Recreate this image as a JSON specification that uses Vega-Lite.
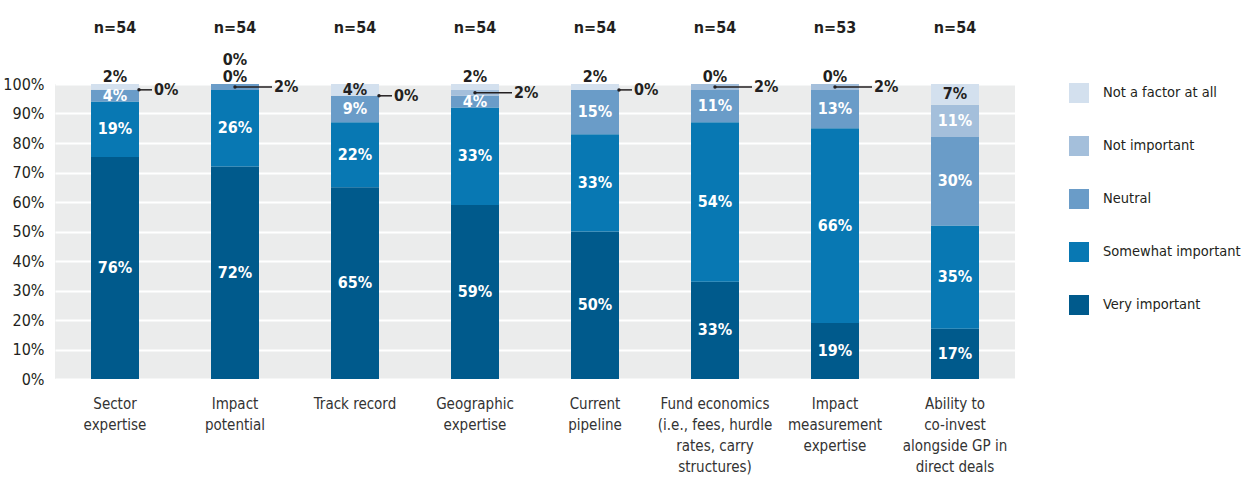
{
  "$schema": "https://vega.github.io/schema/vega-lite/v6.json",
  "width": 960,
  "height": 295,
  "autosize": {"type": "none"},
  "padding": {"left": 55, "top": 84, "right": 229, "bottom": 98},
  "background": "white",
  "config": {
    "font": "DejaVu Sans Condensed, Liberation Sans Narrow, Roboto, sans-serif",
    "view": {"fill": "#ebecec", "stroke": null},
    "axis": {"domain": false, "ticks": false}
  },
  "data": {
    "values": [
      {"factor": "Sector expertise", "response": "Very important", "value": 76, "n": 54},
      {"factor": "Sector expertise", "response": "Somewhat important", "value": 19, "n": 54},
      {"factor": "Sector expertise", "response": "Neutral", "value": 4, "n": 54},
      {"factor": "Sector expertise", "response": "Not important", "value": 0, "n": 54},
      {"factor": "Sector expertise", "response": "Not a factor at all", "value": 2, "n": 54},
      {"factor": "Impact potential", "response": "Very important", "value": 72, "n": 54},
      {"factor": "Impact potential", "response": "Somewhat important", "value": 26, "n": 54},
      {"factor": "Impact potential", "response": "Neutral", "value": 2, "n": 54},
      {"factor": "Impact potential", "response": "Not important", "value": 0, "n": 54},
      {"factor": "Impact potential", "response": "Not a factor at all", "value": 0, "n": 54},
      {"factor": "Track record", "response": "Very important", "value": 65, "n": 54},
      {"factor": "Track record", "response": "Somewhat important", "value": 22, "n": 54},
      {"factor": "Track record", "response": "Neutral", "value": 9, "n": 54},
      {"factor": "Track record", "response": "Not important", "value": 0, "n": 54},
      {"factor": "Track record", "response": "Not a factor at all", "value": 4, "n": 54},
      {"factor": "Geographic expertise", "response": "Very important", "value": 59, "n": 54},
      {"factor": "Geographic expertise", "response": "Somewhat important", "value": 33, "n": 54},
      {"factor": "Geographic expertise", "response": "Neutral", "value": 4, "n": 54},
      {"factor": "Geographic expertise", "response": "Not important", "value": 2, "n": 54},
      {"factor": "Geographic expertise", "response": "Not a factor at all", "value": 2, "n": 54},
      {"factor": "Current pipeline", "response": "Very important", "value": 50, "n": 54},
      {"factor": "Current pipeline", "response": "Somewhat important", "value": 33, "n": 54},
      {"factor": "Current pipeline", "response": "Neutral", "value": 15, "n": 54},
      {"factor": "Current pipeline", "response": "Not important", "value": 0, "n": 54},
      {"factor": "Current pipeline", "response": "Not a factor at all", "value": 2, "n": 54},
      {"factor": "Fund economics (i.e., fees, hurdle rates, carry structures)", "response": "Very important", "value": 33, "n": 54},
      {"factor": "Fund economics (i.e., fees, hurdle rates, carry structures)", "response": "Somewhat important", "value": 54, "n": 54},
      {"factor": "Fund economics (i.e., fees, hurdle rates, carry structures)", "response": "Neutral", "value": 11, "n": 54},
      {"factor": "Fund economics (i.e., fees, hurdle rates, carry structures)", "response": "Not important", "value": 2, "n": 54},
      {"factor": "Fund economics (i.e., fees, hurdle rates, carry structures)", "response": "Not a factor at all", "value": 0, "n": 54},
      {"factor": "Impact measurement expertise", "response": "Very important", "value": 19, "n": 53},
      {"factor": "Impact measurement expertise", "response": "Somewhat important", "value": 66, "n": 53},
      {"factor": "Impact measurement expertise", "response": "Neutral", "value": 13, "n": 53},
      {"factor": "Impact measurement expertise", "response": "Not important", "value": 2, "n": 53},
      {"factor": "Impact measurement expertise", "response": "Not a factor at all", "value": 0, "n": 53},
      {"factor": "Ability to co-invest alongside GP in direct deals", "response": "Very important", "value": 17, "n": 54},
      {"factor": "Ability to co-invest alongside GP in direct deals", "response": "Somewhat important", "value": 35, "n": 54},
      {"factor": "Ability to co-invest alongside GP in direct deals", "response": "Neutral", "value": 30, "n": 54},
      {"factor": "Ability to co-invest alongside GP in direct deals", "response": "Not important", "value": 11, "n": 54},
      {"factor": "Ability to co-invest alongside GP in direct deals", "response": "Not a factor at all", "value": 7, "n": 54}
    ]
  },
  "transform": [
    {"calculate": "indexof(['Very important','Somewhat important','Neutral','Not important','Not a factor at all'], datum.response)", "as": "ord"},
    {"stack": "value", "groupby": ["factor"], "sort": [{"field": "ord", "order": "ascending"}], "as": ["y0", "y1"], "offset": "normalize"},
    {"calculate": "(datum.y0 + datum.y1) / 2", "as": "ymid"},
    {"calculate": "format(datum.value, 'd') + '%'", "as": "lab"}
  ],
  "resolve": {"axis": {"y": "independent"}},
  "encoding": {
    "x": {
      "field": "factor",
      "type": "nominal",
      "sort": ["Sector expertise", "Impact potential", "Track record", "Geographic expertise", "Current pipeline", "Fund economics (i.e., fees, hurdle rates, carry structures)", "Impact measurement expertise", "Ability to co-invest alongside GP in direct deals"],
      "scale": {"paddingInner": 0.6, "paddingOuter": 0.3},
      "axis": {
        "title": null,
        "labelAngle": 0,
        "labelFontSize": 15,
        "labelColor": "#333333",
        "labelPadding": 17,
        "labelBaseline": "top",
        "labelLineHeight": 21,
        "labelLimit": 200,
        "grid": false,
        "labelExpr": "{'Sector expertise':['Sector','expertise'],'Impact potential':['Impact','potential'],'Track record':['Track record'],'Geographic expertise':['Geographic','expertise'],'Current pipeline':['Current','pipeline'],'Fund economics (i.e., fees, hurdle rates, carry structures)':['Fund economics','(i.e., fees, hurdle','rates, carry','structures)'],'Impact measurement expertise':['Impact','measurement','expertise'],'Ability to co-invest alongside GP in direct deals':['Ability to','co-invest','alongside GP in','direct deals']}[datum.label]"
      }
    }
  },
  "layer": [
    {
      "mark": {"type": "bar"},
      "encoding": {
        "y": {
          "field": "y0",
          "type": "quantitative",
          "title": null,
          "scale": {"domain": [0, 1], "nice": false},
          "axis": {
            "title": null,
            "format": ".0%",
            "values": [0, 0.1, 0.2, 0.3, 0.4, 0.5, 0.6, 0.7, 0.8, 0.9, 1],
            "labelOverlap": false,
            "labelFontSize": 16,
            "labelColor": "#231f20",
            "labelPadding": 11,
            "grid": true,
            "gridColor": "white",
            "gridWidth": 2
          }
        },
        "y2": {"field": "y1"},
        "color": {
          "field": "response",
          "type": "nominal",
          "scale": {
            "domain": ["Not a factor at all", "Not important", "Neutral", "Somewhat important", "Very important"],
            "range": ["#d3e0ee", "#a4bfdb", "#6a9cc8", "#0878b3", "#005a8c"]
          },
          "legend": {
            "title": null,
            "orient": "none",
            "legendX": 1014,
            "legendY": -1,
            "padding": 0,
            "symbolType": "square",
            "symbolSize": 400,
            "symbolStrokeWidth": 0,
            "symbolOpacity": 1,
            "labelFontSize": 14.5,
            "labelColor": "#231f20",
            "labelOffset": 14,
            "rowPadding": 33,
            "labelLimit": 300
          }
        }
      }
    },
    {
      "transform": [{"filter": "datum.value >= 4"}],
      "mark": {"type": "text", "fontSize": 16, "fontWeight": "bold", "baseline": "middle", "align": "center"},
      "encoding": {
        "y": {"field": "ymid", "type": "quantitative", "axis": null},
        "text": {"field": "lab"},
        "color": {"condition": {"test": "datum.response == 'Not a factor at all'", "value": "#231f20"}, "value": "white"}
      }
    },
    {
      "transform": [
        {"filter": "(datum.value == 0 && datum.y1 > 0.995) || (datum.value > 0 && datum.value <= 2 && datum.response == 'Not a factor at all')"},
        {"window": [{"op": "row_number", "as": "lvl"}], "groupby": ["factor"], "sort": [{"field": "ord", "order": "ascending"}]},
        {"calculate": "1.025 + (datum.lvl - 1) * 0.058", "as": "ylab"}
      ],
      "mark": {"type": "text", "fontSize": 16, "fontWeight": "bold", "baseline": "middle", "align": "center", "color": "#231f20"},
      "encoding": {
        "y": {"field": "ylab", "type": "quantitative", "axis": null},
        "text": {"field": "lab"}
      }
    },
    {
      "transform": [{"filter": "datum.value == 2 && datum.response != 'Not a factor at all'"}],
      "mark": {"type": "rule", "xOffset": 0, "x2Offset": 37, "color": "#231f20", "strokeWidth": 1.5},
      "encoding": {
        "x2": {"field": "factor"},
        "y": {"field": "ymid", "type": "quantitative", "axis": null}
      }
    },
    {
      "transform": [{"filter": "datum.value == 0 && datum.y1 <= 0.995"}],
      "mark": {"type": "rule", "xOffset": 24, "x2Offset": 37, "color": "#231f20", "strokeWidth": 1.5},
      "encoding": {
        "x2": {"field": "factor"},
        "y": {"field": "ymid", "type": "quantitative", "axis": null}
      }
    },
    {
      "transform": [{"filter": "datum.value == 2 && datum.response != 'Not a factor at all'"}],
      "mark": {"type": "point", "filled": true, "size": 12, "opacity": 1, "color": "#231f20", "xOffset": 0},
      "encoding": {
        "y": {"field": "ymid", "type": "quantitative", "axis": null}
      }
    },
    {
      "transform": [{"filter": "datum.value == 0 && datum.y1 <= 0.995"}],
      "mark": {"type": "point", "filled": true, "size": 12, "opacity": 1, "color": "#231f20", "xOffset": 24},
      "encoding": {
        "y": {"field": "ymid", "type": "quantitative", "axis": null}
      }
    },
    {
      "transform": [{"filter": "(datum.value == 2 && datum.response != 'Not a factor at all') || (datum.value == 0 && datum.y1 <= 0.995)"}],
      "mark": {"type": "text", "fontSize": 16, "fontWeight": "bold", "baseline": "middle", "align": "left", "color": "#231f20", "xOffset": 39},
      "encoding": {
        "y": {"field": "ymid", "type": "quantitative", "axis": null},
        "text": {"field": "lab"}
      }
    },
    {
      "transform": [
        {"filter": "datum.response == 'Very important'"},
        {"calculate": "'n=' + datum.n", "as": "nlab"}
      ],
      "mark": {"type": "text", "fontSize": 16, "fontWeight": "bold", "baseline": "middle", "align": "center", "color": "#231f20"},
      "encoding": {
        "y": {"datum": 1.19, "type": "quantitative", "axis": null},
        "text": {"field": "nlab"}
      }
    }
  ]
}
